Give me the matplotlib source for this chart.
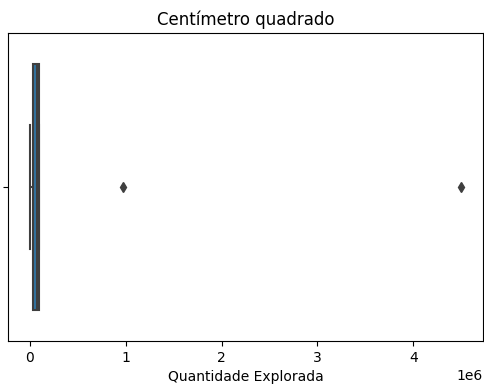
import matplotlib
matplotlib.use("Agg")
import matplotlib.pyplot as plt
import pandas as pd
import seaborn as sns

# area values (cm²)
quantidade = [0, 30000, 40000, 40000, 50000, 70000, 85000,
              100000, 100000, 100000, 970000, 4500000]
titulo = "Centímetro quadrado"
rotulo_x = "Quantidade Explorada"

df = pd.DataFrame({"Quantidade Explorada": quantidade})

cinza = "#3f3f3f"
fig = plt.figure(figsize=(4.84, 3.91), dpi=100)
ax = fig.add_axes([8 / 484, 50 / 391, 475 / 484, 308 / 391])
sns.boxplot(x=df["Quantidade Explorada"], ax=ax, color="#3274a1",
            saturation=1, linewidth=1.5, width=0.8,
            boxprops=dict(facecolor="#3274a1", edgecolor=cinza),
            whiskerprops=dict(color=cinza),
            capprops=dict(color=cinza),
            medianprops=dict(color=cinza),
            flierprops=dict(marker="d", markerfacecolor=cinza,
                            markeredgecolor=cinza, markersize=5))
ax.set_title(titulo, fontsize=12)
ax.set_xlabel(rotulo_x)
ax.set_yticks([0])
ax.set_yticklabels([""])
fig.savefig("out.png", dpi=100)
